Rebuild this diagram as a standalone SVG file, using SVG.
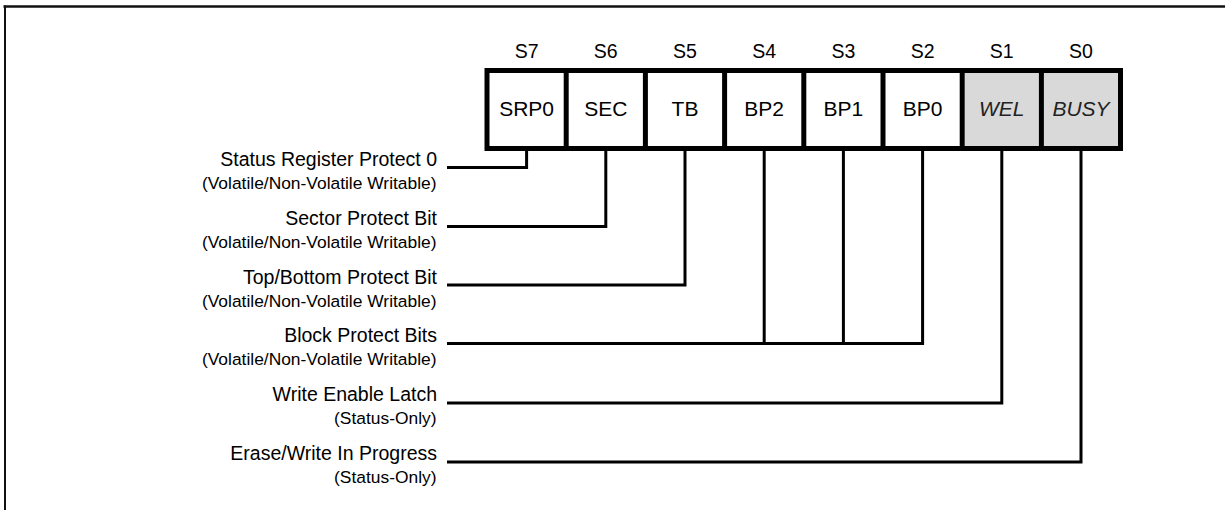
<svg xmlns="http://www.w3.org/2000/svg" width="1225" height="510" viewBox="0 0 1225 510">
<style>
text{font-family:"Liberation Sans",Arial,sans-serif;fill:#000}
.hdr{font-size:19.5px;text-anchor:middle}
.cell{font-size:21px;text-anchor:middle}
.it{font-style:italic;fill:#222}
.main{font-size:19.5px;text-anchor:end}
.sub{font-size:17.4px;text-anchor:end}
.box{fill:#fff;stroke:#000;stroke-width:5}
.gray{fill:#d9d9d9}
.div{stroke:#000;stroke-width:5}
.conn path{fill:none;stroke:#000;stroke-width:3;stroke-linejoin:miter}
.frame{stroke:#111;fill:none}
</style>
<rect width="1225" height="510" fill="#fff"/>
<g id="frame">
<line class="frame" x1="3.5" y1="6.5" x2="1225" y2="6.5" stroke-width="2.5"/>
<line class="frame" x1="5" y1="5.5" x2="5" y2="510" stroke-width="2"/>
</g>
<g id="register">
<rect class="box" x="487" y="70.5" width="633.5" height="78"/>
<rect class="gray" x="964.7" y="73" width="74.2" height="73"/>
<rect class="gray" x="1043.9" y="73" width="74.1" height="73"/>
<line class="div" x1="566.2" y1="70.5" x2="566.2" y2="148.5"/>
<line class="div" x1="645.4" y1="70.5" x2="645.4" y2="148.5"/>
<line class="div" x1="724.6" y1="70.5" x2="724.6" y2="148.5"/>
<line class="div" x1="803.8" y1="70.5" x2="803.8" y2="148.5"/>
<line class="div" x1="883" y1="70.5" x2="883" y2="148.5"/>
<line class="div" x1="962.2" y1="70.5" x2="962.2" y2="148.5"/>
<line class="div" x1="1041.4" y1="70.5" x2="1041.4" y2="148.5"/>
</g>
<g id="bit-S7"><text class="hdr" x="526.6" y="58">S7</text><text class="cell" x="526.6" y="115.5">SRP0</text></g>
<g id="bit-S6"><text class="hdr" x="605.8" y="58">S6</text><text class="cell" x="605.8" y="115.5">SEC</text></g>
<g id="bit-S5"><text class="hdr" x="685" y="58">S5</text><text class="cell" x="685" y="115.5">TB</text></g>
<g id="bit-S4"><text class="hdr" x="764.2" y="58">S4</text><text class="cell" x="764.2" y="115.5">BP2</text></g>
<g id="bit-S3"><text class="hdr" x="843.4" y="58">S3</text><text class="cell" x="843.4" y="115.5">BP1</text></g>
<g id="bit-S2"><text class="hdr" x="922.6" y="58">S2</text><text class="cell" x="922.6" y="115.5">BP0</text></g>
<g id="bit-S1"><text class="hdr" x="1001.8" y="58">S1</text><text class="cell it" x="1001.8" y="115.5">WEL</text></g>
<g id="bit-S0"><text class="hdr" x="1081" y="58">S0</text><text class="cell it" x="1081" y="115.5">BUSY</text></g>
<g id="label-srp0"><text class="main" x="437" y="166">Status Register Protect 0</text><text class="sub" x="436.5" y="189">(Volatile/Non-Volatile Writable)</text></g>
<g id="label-sec"><text class="main" x="437" y="225">Sector Protect Bit</text><text class="sub" x="436.5" y="248">(Volatile/Non-Volatile Writable)</text></g>
<g id="label-tb"><text class="main" x="437" y="284">Top/Bottom Protect Bit</text><text class="sub" x="436.5" y="307">(Volatile/Non-Volatile Writable)</text></g>
<g id="label-bp"><text class="main" x="437" y="342">Block Protect Bits</text><text class="sub" x="436.5" y="365">(Volatile/Non-Volatile Writable)</text></g>
<g id="label-wel"><text class="main" x="437" y="401">Write Enable Latch</text><text class="sub" x="436.5" y="424">(Status-Only)</text></g>
<g id="label-busy"><text class="main" x="437" y="460">Erase/Write In Progress</text><text class="sub" x="436.5" y="483">(Status-Only)</text></g>
<g id="connectors" class="conn">
<path d="M447,167.5 H526.6 V151"/>
<path d="M447,226.5 H605.8 V151"/>
<path d="M447,285 H685 V151"/>
<path d="M447,343.5 H922.6 V151"/>
<path d="M764.2,343.5 V151"/>
<path d="M843.4,343.5 V151"/>
<path d="M447,403 H1001.8 V151"/>
<path d="M447,462 H1081 V151"/>
</g>
</svg>
